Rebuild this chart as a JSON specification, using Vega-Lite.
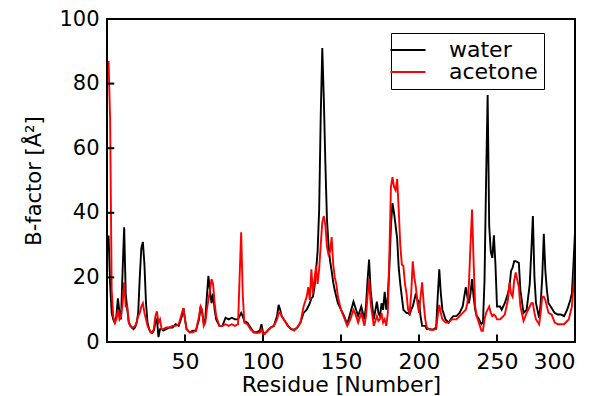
{
  "$schema": "https://vega.github.io/schema/vega-lite/v6.json",
  "width": 468,
  "height": 323,
  "autosize": {"type": "none"},
  "padding": {"left": 107, "top": 19, "right": 25, "bottom": 54},
  "background": "white",
  "config": {
    "view": {"stroke": null},
    "font": "DejaVu Sans"
  },
  "layer": [
    {
      "data": {
        "values": [
          {"r":1,"water":33,"acetone":87},{"r":2,"water":18,"acetone":69},{"r":3,"water":9,"acetone":16},{"r":4,"water":7,"acetone":8},{"r":5,"water":6,"acetone":6},{"r":6,"water":8,"acetone":7},{"r":7,"water":13.5,"acetone":10},{"r":8,"water":9,"acetone":7},{"r":9,"water":7,"acetone":8},{"r":10,"water":22,"acetone":12},{"r":11,"water":35.5,"acetone":18.5},{"r":12,"water":15,"acetone":11},{"r":13,"water":10,"acetone":11},{"r":14,"water":6,"acetone":6},{"r":15,"water":5,"acetone":5},{"r":16,"water":4.5,"acetone":4.5},{"r":17,"water":4,"acetone":4.5},{"r":18,"water":4.5,"acetone":5},{"r":19,"water":6,"acetone":6},{"r":20,"water":9,"acetone":8},{"r":21,"water":20,"acetone":9},{"r":22,"water":29,"acetone":11},{"r":23,"water":31,"acetone":12},{"r":24,"water":24,"acetone":9},{"r":25,"water":12,"acetone":7},{"r":26,"water":6,"acetone":5},{"r":27,"water":4,"acetone":4},{"r":28,"water":3,"acetone":3},{"r":29,"water":2.8,"acetone":3},{"r":30,"water":3.5,"acetone":4},{"r":31,"water":6,"acetone":8},{"r":32,"water":7,"acetone":9.5},{"r":33,"water":1.5,"acetone":6},{"r":34,"water":4,"acetone":7},{"r":35,"water":4,"acetone":4},{"r":36,"water":3.5,"acetone":4},{"r":38,"water":4,"acetone":4.5},{"r":40,"water":4.5,"acetone":4.5},{"r":42,"water":4.5,"acetone":5},{"r":44,"water":5.5,"acetone":5},{"r":46,"water":5,"acetone":5.5},{"r":48,"water":8,"acetone":9},{"r":49,"water":10.5,"acetone":10.5},{"r":50,"water":7,"acetone":7},{"r":51,"water":4,"acetone":4},{"r":53,"water":3,"acetone":3},{"r":55,"water":3.5,"acetone":3},{"r":57,"water":3.5,"acetone":3.5},{"r":59,"water":7,"acetone":8},{"r":60,"water":11,"acetone":11},{"r":61,"water":9,"acetone":10},{"r":62,"water":6,"acetone":5},{"r":63,"water":7,"acetone":6},{"r":64,"water":14,"acetone":10},{"r":65,"water":20.5,"acetone":13},{"r":66,"water":16,"acetone":16},{"r":67,"water":12,"acetone":19.5},{"r":68,"water":15,"acetone":18},{"r":69,"water":10,"acetone":12},{"r":70,"water":7,"acetone":8},{"r":72,"water":5,"acetone":5},{"r":74,"water":5,"acetone":5},{"r":76,"water":7.5,"acetone":5.5},{"r":78,"water":7,"acetone":5},{"r":80,"water":7.5,"acetone":5.5},{"r":82,"water":7,"acetone":5},{"r":84,"water":7,"acetone":5.5},{"r":85,"water":8,"acetone":20},{"r":86,"water":9,"acetone":34},{"r":87,"water":8,"acetone":15},{"r":88,"water":6.5,"acetone":6},{"r":90,"water":6,"acetone":5.5},{"r":92,"water":4.5,"acetone":4},{"r":94,"water":3,"acetone":3},{"r":96,"water":3,"acetone":2.8},{"r":98,"water":3.5,"acetone":3},{"r":99,"water":5.5,"acetone":4},{"r":100,"water":3,"acetone":2.5},{"r":101,"water":2.5,"acetone":2.5},{"r":103,"water":3.5,"acetone":3.5},{"r":105,"water":4.5,"acetone":4.5},{"r":107,"water":5,"acetone":5},{"r":109,"water":8,"acetone":7},{"r":110,"water":11.5,"acetone":9},{"r":111,"water":10,"acetone":9},{"r":112,"water":8,"acetone":8},{"r":114,"water":6.5,"acetone":6.5},{"r":116,"water":5,"acetone":5},{"r":118,"water":4,"acetone":4},{"r":120,"water":3.8,"acetone":3.5},{"r":122,"water":4.5,"acetone":4.5},{"r":124,"water":6,"acetone":6},{"r":126,"water":9,"acetone":11},{"r":128,"water":10,"acetone":14},{"r":129,"water":11,"acetone":17},{"r":130,"water":12,"acetone":13},{"r":131,"water":13.5,"acetone":22.5},{"r":132,"water":14,"acetone":15},{"r":133,"water":17,"acetone":19.5},{"r":134,"water":22,"acetone":23.5},{"r":135,"water":28,"acetone":18},{"r":136,"water":41,"acetone":22.5},{"r":137,"water":70,"acetone":30},{"r":138,"water":91,"acetone":37},{"r":139,"water":75,"acetone":39},{"r":140,"water":55,"acetone":36},{"r":141,"water":38,"acetone":29.5},{"r":142,"water":30,"acetone":27},{"r":143,"water":25,"acetone":28},{"r":144,"water":22,"acetone":32.5},{"r":145,"water":18.5,"acetone":24},{"r":146,"water":16,"acetone":20},{"r":147,"water":14,"acetone":18},{"r":148,"water":12,"acetone":14},{"r":150,"water":10,"acetone":10},{"r":152,"water":8,"acetone":7.5},{"r":154,"water":5.5,"acetone":5},{"r":156,"water":9,"acetone":7},{"r":158,"water":12.5,"acetone":10},{"r":159,"water":11,"acetone":9},{"r":161,"water":8,"acetone":6},{"r":163,"water":11,"acetone":9},{"r":165,"water":7,"acetone":5},{"r":166,"water":11,"acetone":8},{"r":167,"water":19,"acetone":14},{"r":168,"water":25.5,"acetone":19.5},{"r":169,"water":16,"acetone":12},{"r":171,"water":7,"acetone":5},{"r":173,"water":12.5,"acetone":8},{"r":174,"water":9,"acetone":6.5},{"r":175,"water":8,"acetone":7},{"r":176,"water":12,"acetone":9},{"r":177,"water":10,"acetone":6},{"r":178,"water":15.5,"acetone":7},{"r":179,"water":10,"acetone":5},{"r":180,"water":14,"acetone":9},{"r":181,"water":23,"acetone":27},{"r":182,"water":36,"acetone":48},{"r":183,"water":43,"acetone":51},{"r":184,"water":40,"acetone":48},{"r":185,"water":36,"acetone":47},{"r":186,"water":32,"acetone":50.5},{"r":187,"water":23,"acetone":41},{"r":188,"water":18,"acetone":30},{"r":189,"water":14,"acetone":24},{"r":190,"water":10,"acetone":23.5},{"r":191,"water":9.5,"acetone":18},{"r":192,"water":9,"acetone":15},{"r":193,"water":9,"acetone":10},{"r":194,"water":8.5,"acetone":9},{"r":195,"water":10,"acetone":15},{"r":196,"water":11,"acetone":25},{"r":197,"water":13,"acetone":20},{"r":198,"water":15,"acetone":17},{"r":199,"water":13,"acetone":12},{"r":200,"water":12.5,"acetone":9},{"r":201,"water":8,"acetone":14},{"r":202,"water":5,"acetone":18.5},{"r":203,"water":5,"acetone":12},{"r":204,"water":5,"acetone":7},{"r":205,"water":4,"acetone":4.5},{"r":207,"water":4,"acetone":3.8},{"r":209,"water":3.8,"acetone":3.8},{"r":211,"water":4.5,"acetone":4},{"r":212,"water":14,"acetone":8},{"r":213,"water":22.5,"acetone":11.5},{"r":214,"water":15,"acetone":9},{"r":215,"water":10,"acetone":7},{"r":217,"water":7,"acetone":6},{"r":219,"water":6,"acetone":6},{"r":221,"water":7.5,"acetone":7},{"r":222,"water":8,"acetone":7},{"r":224,"water":8,"acetone":7},{"r":226,"water":9,"acetone":8},{"r":228,"water":11,"acetone":9},{"r":230,"water":17,"acetone":10},{"r":231,"water":14,"acetone":12},{"r":232,"water":12,"acetone":18},{"r":233,"water":15,"acetone":30},{"r":234,"water":19.5,"acetone":41},{"r":235,"water":14,"acetone":25},{"r":236,"water":10,"acetone":11},{"r":237,"water":8,"acetone":8},{"r":238,"water":7.5,"acetone":6.5},{"r":240,"water":5.5,"acetone":3.5},{"r":241,"water":6,"acetone":3.5},{"r":242,"water":19,"acetone":7},{"r":243,"water":50,"acetone":9},{"r":244,"water":76.5,"acetone":10},{"r":245,"water":36,"acetone":11},{"r":246,"water":28,"acetone":9},{"r":247,"water":26,"acetone":8},{"r":248,"water":33,"acetone":8.5},{"r":249,"water":24,"acetone":8},{"r":250,"water":11,"acetone":7},{"r":252,"water":11,"acetone":7},{"r":253,"water":10,"acetone":7.5},{"r":255,"water":12,"acetone":8.5},{"r":257,"water":15,"acetone":13},{"r":258,"water":17,"acetone":18.5},{"r":259,"water":22,"acetone":15},{"r":260,"water":23,"acetone":14},{"r":261,"water":25,"acetone":19},{"r":262,"water":25,"acetone":21.5},{"r":264,"water":24.5,"acetone":17},{"r":265,"water":16,"acetone":11},{"r":267,"water":9,"acetone":6.5},{"r":269,"water":10,"acetone":9},{"r":271,"water":18,"acetone":11},{"r":272,"water":28,"acetone":12},{"r":273,"water":39,"acetone":12},{"r":274,"water":20,"acetone":9},{"r":275,"water":12,"acetone":7},{"r":277,"water":7.5,"acetone":5.5},{"r":278,"water":12,"acetone":9},{"r":279,"water":20,"acetone":14},{"r":280,"water":33.5,"acetone":14},{"r":281,"water":22,"acetone":13},{"r":282,"water":16,"acetone":11},{"r":283,"water":12,"acetone":9},{"r":285,"water":10.5,"acetone":8.5},{"r":287,"water":9,"acetone":6},{"r":289,"water":8.5,"acetone":5.5},{"r":291,"water":8.5,"acetone":5.5},{"r":293,"water":8,"acetone":5.5},{"r":295,"water":10,"acetone":6.5},{"r":296,"water":11.5,"acetone":7},{"r":297,"water":13,"acetone":9},{"r":298,"water":15,"acetone":11},{"r":299,"water":24,"acetone":17},{"r":300,"water":34,"acetone":25}
        ]
      },
      "transform": [{"fold": ["water", "acetone"], "as": ["series", "value"]}],
      "mark": {"type": "line", "strokeWidth": 1.9, "clip": true},
      "encoding": {
        "x": {
          "field": "r", "type": "quantitative", "title": "Residue [Number]",
          "scale": {"domain": [0, 300], "nice": false, "zero": false},
          "axis": {
            "values": [50, 100, 150, 200, 250, 300],
            "grid": false, "domain": false, "ticks": true, "tickOpacity": 0, "tickSize": 6,
            "labelPadding": 3, "labelFontSize": 22, "labelColor": "black",
            "titleFontSize": 22, "titleFontWeight": "normal", "titleColor": "black", "titlePadding": 2
          }
        },
        "y": {
          "field": "value", "type": "quantitative", "title": "B-factor [Å²]",
          "scale": {"domain": [0, 100], "nice": false},
          "axis": {
            "values": [0, 20, 40, 60, 80, 100],
            "grid": false, "domain": false, "ticks": true, "tickOpacity": 0, "tickSize": 6,
            "labelPadding": 2, "labelFontSize": 21, "labelColor": "black",
            "titleFontSize": 21, "titleFontWeight": "normal", "titleColor": "black", "titlePadding": 14
          }
        },
        "color": {
          "field": "series", "type": "nominal",
          "scale": {"domain": ["water", "acetone"], "range": ["black", "#ff0000"]},
          "legend": {
            "title": null, "orient": "none", "legendX": 284, "legendY": 14,
            "strokeColor": "black", "padding": 6,
            "symbolType": "M-1.75,0H1.75", "symbolSize": 400, "symbolStrokeWidth": 2,
            "labelFontSize": 22, "labelColor": "black", "labelOffset": 30, "rowPadding": 0
          }
        }
      }
    },
    {
      "data": {
        "values": [
          {"seg": "frame", "k": 1, "r": 0, "value": 0},
          {"seg": "frame", "k": 2, "r": 300, "value": 0},
          {"seg": "frame", "k": 3, "r": 300, "value": 100},
          {"seg": "frame", "k": 4, "r": 0, "value": 100},
          {"seg": "frame", "k": 5, "r": 0, "value": 0},
          {"seg": "x50", "k": 1, "r": 50, "value": 0}, {"seg": "x50", "k": 2, "r": 50, "value": 2},
          {"seg": "x100", "k": 1, "r": 100, "value": 0}, {"seg": "x100", "k": 2, "r": 100, "value": 2},
          {"seg": "x150", "k": 1, "r": 150, "value": 0}, {"seg": "x150", "k": 2, "r": 150, "value": 2},
          {"seg": "x200", "k": 1, "r": 200, "value": 0}, {"seg": "x200", "k": 2, "r": 200, "value": 2},
          {"seg": "x250", "k": 1, "r": 250, "value": 0}, {"seg": "x250", "k": 2, "r": 250, "value": 2},
          {"seg": "y20", "k": 1, "r": 0, "value": 20}, {"seg": "y20", "k": 2, "r": 4, "value": 20},
          {"seg": "y40", "k": 1, "r": 0, "value": 40}, {"seg": "y40", "k": 2, "r": 4, "value": 40},
          {"seg": "y60", "k": 1, "r": 0, "value": 60}, {"seg": "y60", "k": 2, "r": 4, "value": 60},
          {"seg": "y80", "k": 1, "r": 0, "value": 80}, {"seg": "y80", "k": 2, "r": 4, "value": 80}
        ]
      },
      "mark": {"type": "line", "color": "black", "strokeWidth": 2, "strokeCap": "square"},
      "encoding": {
        "x": {"field": "r", "type": "quantitative", "title": "Residue [Number]"},
        "y": {"field": "value", "type": "quantitative", "title": "B-factor [Å²]"},
        "detail": {"field": "seg", "type": "nominal"},
        "order": {"field": "k", "type": "quantitative"}
      }
    }
  ]
}
